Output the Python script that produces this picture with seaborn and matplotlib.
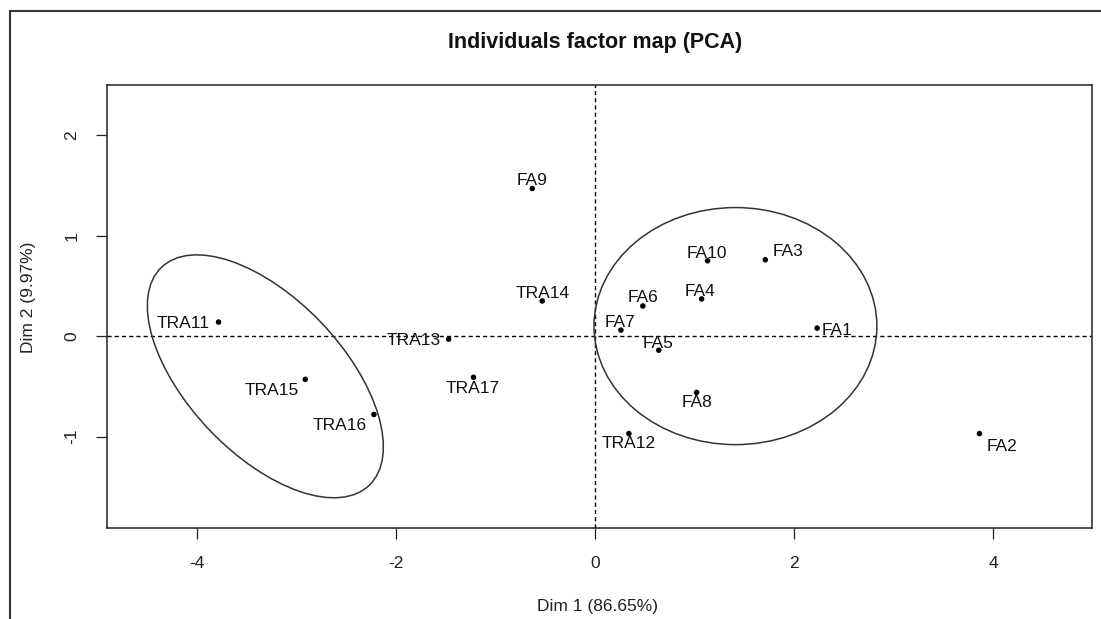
import numpy as np
import pandas as pd
import matplotlib
matplotlib.use("Agg")
import matplotlib.pyplot as plt
from matplotlib.patches import Ellipse
from matplotlib.lines import Line2D
import seaborn as sns

# ---- data ----
names = ["FA1", "FA2", "FA3", "FA4", "FA5", "FA6", "FA7", "FA8", "FA9", "FA10",
         "TRA11", "TRA12", "TRA13", "TRA14", "TRA15", "TRA16", "TRA17"]
dim1 = [2.23, 3.86, 1.71, 1.07, 0.64, 0.48, 0.26, 1.02, -0.63, 1.13,
        -3.78, 0.34, -1.47, -0.53, -2.91, -2.22, -1.22]
dim2 = [0.08, -0.97, 0.76, 0.37, -0.14, 0.30, 0.06, -0.56, 1.47, 0.75,
        0.14, -0.97, -0.03, 0.35, -0.43, -0.78, -0.41]

x_ticks = [-4, -2, 0, 2, 4]
y_ticks = [-1, 0, 1, 2]

# ellipses: centre x, centre y, width, height, angle (data units)
ell_cx = [-3.31, 1.41]
ell_cy = [-0.40, 0.10]
ell_w = [3.01, 2.84]
ell_h = [1.55, 2.36]
ell_ang = [-46, 0]

title = "Individuals factor map (PCA)"
xlabel = "Dim 1 (86.65%)"
ylabel = "Dim 2 (9.97%)"

# label offsets in pixels (placement only)
label_dx = [20, 23, 23, -2, -1, 0, -1, 0, 0, -1, -35, 0, -35, 0, -33, -34, -1]
label_dy = [-2, -13, 8, 7, 7, 8, 8, -10, 8, 7, -1, -10, -1, 7, -11, -11, -11]

df = pd.DataFrame({"name": names, "Dim1": dim1, "Dim2": dim2})

sns.set_style("white")
plt.rcParams["font.family"] = ["Liberation Sans", "DejaVu Sans"]
plt.rcParams["lines.scale_dashes"] = False

fig = plt.figure(figsize=(11.01, 6.19), dpi=100)
ax = fig.add_axes([107 / 1101, 1 - 528 / 619, (1092 - 107) / 1101, (528 - 85) / 619])

sns.scatterplot(data=df, x="Dim1", y="Dim2", ax=ax, color="black", s=16,
                edgecolor="none", legend=False, zorder=3)

for n, x, y, dx, dy in zip(names, dim1, dim2, label_dx, label_dy):
    ax.annotate(n, (x, y), xytext=(dx, dy), textcoords="offset pixels",
                ha="center", va="center", fontsize=12.5, color="#111111", zorder=4)

ax.axhline(0, color="black", lw=1.0, ls=(0, (3, 2.2)), zorder=1)
ax.axvline(0, color="black", lw=1.0, ls=(0, (3, 2.2)), zorder=1)

for cx, cy, w, h, a in zip(ell_cx, ell_cy, ell_w, ell_h, ell_ang):
    ax.add_patch(Ellipse((cx, cy), w, h, angle=a, fill=False,
                         edgecolor="#333333", lw=1.1, zorder=2))

ax.set_xlim(-4.9, 4.99)
ax.set_ylim(-1.91, 2.5)
ax.set_xticks(x_ticks)
ax.set_yticks(y_ticks)
ax.set_xticklabels([str(t) for t in x_ticks])
ax.set_yticklabels([str(t) for t in y_ticks], rotation=90, va="center")
ax.tick_params(axis="both", direction="out", length=8, width=0.9, color="#222222",
               labelsize=12.5, pad=12, bottom=True, left=True, labelcolor="#222222")

for s in ax.spines.values():
    s.set_visible(True)
    s.set_color("#222222")
    s.set_linewidth(1.1)

ax.set_xlabel(xlabel, fontsize=12.5, color="#222222", va="center")
ax.set_ylabel(ylabel, fontsize=12.5, color="#222222", va="center")
ax.xaxis.set_label_coords(0.498, -0.178)
ax.yaxis.set_label_coords(-0.080, 0.52)

ax.text(0.496, 1.095, title, transform=ax.transAxes, ha="center", va="center",
        fontsize=15.5, fontweight="bold", color="#111111")

# outer frame of the screenshot (left and top edges)
fig.add_artist(Line2D([10 / 1101, 10 / 1101], [0, 1 - 11 / 619], transform=fig.transFigure,
                      color="#333333", lw=1.5))
fig.add_artist(Line2D([10 / 1101, 1], [1 - 11 / 619, 1 - 11 / 619], transform=fig.transFigure,
                      color="#333333", lw=1.5))

fig.savefig("out.png", dpi=100)
